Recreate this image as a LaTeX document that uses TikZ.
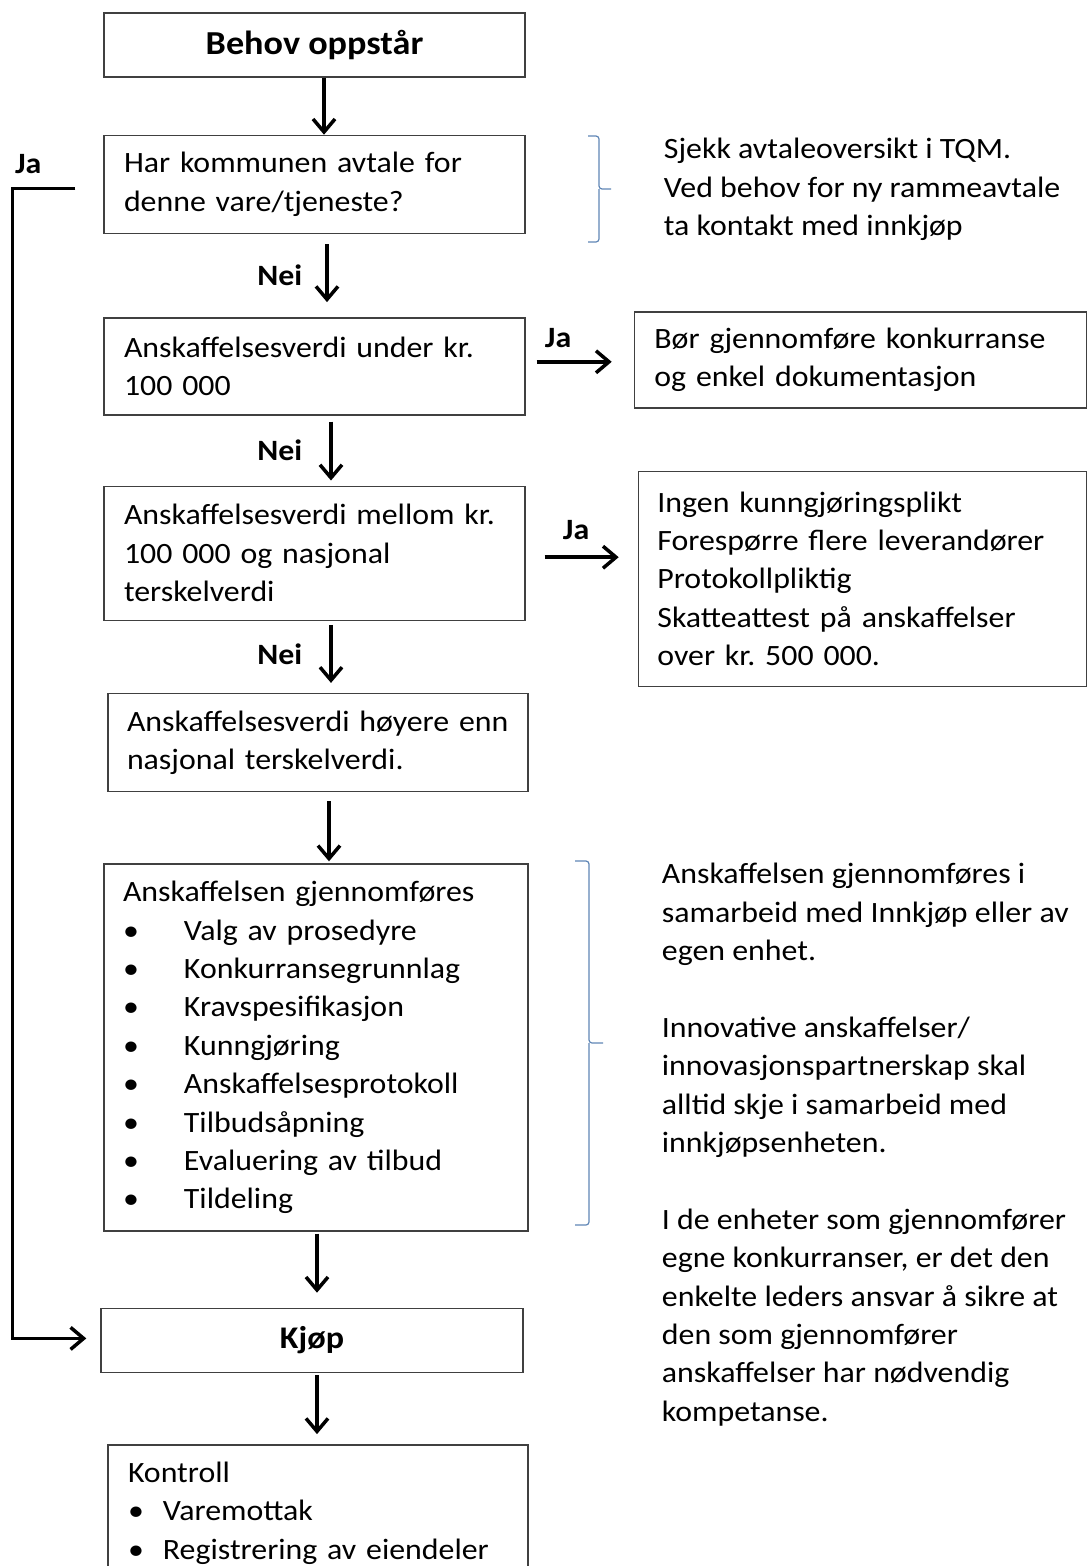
\documentclass[tikz,border=0pt]{standalone}
\usepackage{fontspec}
\setmainfont{Carlito}[FakeStretch=1.08]
\usepackage{xcolor}
\definecolor{boxline}{RGB}{64, 64, 64}
\definecolor{bracecol}{RGB}{96, 134, 182}
\usepackage{tikz}
\usetikzlibrary{arrows.meta,positioning}
\frenchspacing

\newcommand{\normtekst}{\fontsize{29.5}{38.4}\selectfont}
\newcommand{\titteltekst}{\fontsize{33.5}{40}\selectfont}
\newcommand{\listepunkt}[2][61pt]{\makebox[#1][l]{\textbullet}#2}

\begin{document}
\begin{tikzpicture}[x=1pt, y=-1pt,
    every node/.style={font=\normtekst},
    boks/.style={rectangle, draw=boxline, line width=1.4pt, inner xsep=20pt, inner ysep=4pt, align=left},
    tittel/.style={rectangle, draw=boxline, line width=1.4pt, font=\titteltekst\bfseries, minimum height=64pt},
    pil/.style={-{Straight Barb[length=13pt,width=22pt]}, line width=3.5pt},
    svar/.style={font=\normtekst\bfseries, inner sep=0pt},
    klamme/.style={draw=bracecol, line width=1.2pt, rounded corners=3pt},
    merknad/.style={align=left, inner sep=0pt}]
    \useasboundingbox (0,0) rectangle (1087,1566);
    \clip (0,0) rectangle (1087,1566);
    \fill[white] (0,0) rectangle (1087,1566);

    % Main column
    \node[tittel, minimum width=421pt] (behov) at (314.5,45) {Behov oppstår};
    \node[boks, text width=381pt, minimum height=98pt, below=57pt of behov] (avtale) {Har kommunen avtale for\\denne vare/tjeneste?};
    \node[boks, text width=381pt, minimum height=97pt, below=83pt of avtale] (under) {Anskaffelsesverdi under kr.\\100 000};
    \node[boks, text width=381pt, minimum height=134pt, below=70pt of under] (mellom) {\mbox{Anskaffelsesverdi mellom kr.}\\100 000 og nasjonal\\terskelverdi};
    \node[boks, text width=382pt, inner xsep=19pt, minimum height=98pt, below=72pt of mellom, xshift=3.5pt] (hoyere) {\mbox{Anskaffelsesverdi høyere enn}\\nasjonal terskelverdi.};
    \node[boks, text width=386pt, inner xsep=19pt, minimum height=367pt, below=71pt of hoyere, xshift=-2pt] (gjennom) {Anskaffelsen gjennomføres\\
        \listepunkt{Valg av prosedyre}\\
        \listepunkt{Konkurransegrunnlag}\\
        \listepunkt{Kravspesifikasjon}\\
        \listepunkt{Kunngjøring}\\
        \listepunkt{Anskaffelsesprotokoll}\\
        \listepunkt{Tilbudsåpning}\\
        \listepunkt{Evaluering av tilbud}\\
        \listepunkt{Tildeling}};
    \node[tittel, font=\fontsize{31.5}{38}\selectfont\bfseries, minimum width=422pt, below=76pt of gjennom, xshift=-4pt] (kjop) {Kjøp};
    \node[boks, text width=380pt, inner ysep=17pt, below=71pt of kjop, xshift=6pt] (kontroll) {Kontroll\\
        \listepunkt[35pt]{Varemottak}\\
        \listepunkt[35pt]{Registrering av eiendeler}\\[60pt]\mbox{}};

    % Right column
    \node[boks, text width=412pt, minimum height=96pt, right=108pt of under, yshift=6.5pt] (boer) {\mbox{Bør gjennomføre konkurranse}\\og enkel dokumentasjon};
    \node[boks, text width=410pt, inner xsep=19pt, minimum height=215pt, right=112pt of mellom, yshift=-25.5pt] (ingen) {Ingen kunngjøringsplikt\\\mbox{Forespørre flere leverandører}\\Protokollpliktig\\Skatteattest på anskaffelser\\over kr. 500 000.};
    \node[merknad, below right=101pt and 138pt of avtale.north east, anchor=base west] (tqm) {Sjekk avtaleoversikt i TQM.\\Ved behov for ny rammeavtale\\ta kontakt med innkjøp};
    \node[merknad, below right=558pt and 133pt of gjennom.north east, anchor=base west] (samarbeid) {Anskaffelsen gjennomføres i\\samarbeid med Innkjøp eller av\\egen enhet.\\[38.4pt]
        Innovative anskaffelser/\\innovasjonspartnerskap skal\\alltid skje i samarbeid med\\innkjøpsenheten.\\[38.4pt]
        I de enheter som gjennomfører\\egne konkurranser, er det den\\enkelte leders ansvar å sikre at\\den som gjennomfører\\anskaffelser har nødvendig\\kompetanse.};

    % Braces
    \draw[klamme] (588,136) -| (599,189) -- (611,189) (599,189) |- (588,242);
    \draw[klamme] (575,861) -| (589,1043) -- (603,1043) (589,1043) |- (575,1225);

    % Main flow
    \draw[pil] ([xshift=9.5pt]behov.south) -- ([xshift=9.5pt]behov.south |- avtale.north);
    \draw[pil, shorten <=10pt, shorten >=15pt] ([xshift=12.5pt]avtale.south) -- ([xshift=12.5pt]avtale.south |- under.north) node[svar, pos=0.49, left=23pt] {Nei};
    \draw[pil, shorten <=6pt, shorten >=5pt] ([xshift=16.5pt]under.south) -- ([xshift=16.5pt]under.south |- mellom.north) node[svar, pos=0.5, left=27pt] {Nei};
    \draw[pil, shorten <=4pt, shorten >=10pt] ([xshift=16.5pt]mellom.south) -- ([xshift=16.5pt]mellom.south |- hoyere.north) node[svar, pos=0.47, left=27pt] {Nei};
    \draw[pil, shorten <=9pt, shorten >=2pt] ([xshift=11pt]hoyere.south) -- ([xshift=11pt]hoyere.south |- gjennom.north);
    \draw[pil, shorten <=2pt, shorten >=15pt] ([xshift=1pt]gjennom.south) -- ([xshift=1pt]gjennom.south |- kjop.north);
    \draw[pil, shorten <=2pt, shorten >=10pt] ([xshift=5pt]kjop.south) -- ([xshift=5pt]kjop.south |- kontroll.north);

    % Ja branches
    \draw[pil, shorten <=11pt, shorten >=22pt] ([yshift=4.5pt]under.east) -- ([yshift=4.5pt]under.east -| boer.west) node[svar, pos=0.30, above=12pt] {Ja};
    \draw[pil, shorten <=19pt, shorten >=19pt] ([yshift=-4pt]mellom.east) -- ([yshift=-4pt]mellom.east -| ingen.west) node[svar, pos=0.45, above=16pt] {Ja};
    \draw[pil, shorten <=28pt, shorten >=14pt] ([yshift=-4pt]avtale.west) -- ++(-91,0) node[svar, anchor=south west, xshift=1pt, yshift=13pt] {Ja} |- ([yshift=2pt]kjop.west);
\end{tikzpicture}
\end{document}
